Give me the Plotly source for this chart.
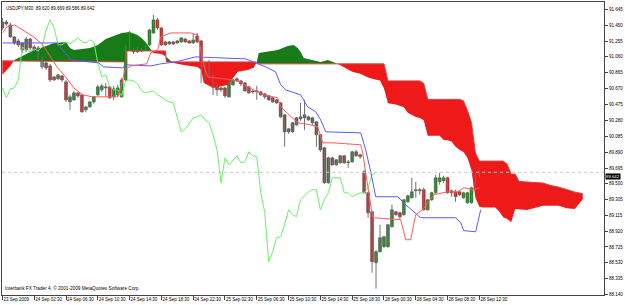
import plotly.graph_objects as go
import numpy as np

# ---------------- data (bar index 0 = 23 Sep 2009 22:30, M30 bars) ----------------
opens = [91.415, 91.489, 91.452, 91.305, 91.256, 91.231, 91.145, 91.280, 91.182, 91.170,
         91.047, 90.986, 90.949, 90.814, 90.790, 90.826, 90.753, 90.507, 90.532, 90.618,
         90.593, 90.409, 90.446, 90.507, 90.593, 90.655, 90.692, 90.692, 90.569, 90.593,
         90.569, 90.777, 91.342, 91.158, 91.121, 91.158, 91.145, 91.207, 91.354, 91.514,
         91.415, 91.244, 91.219, 91.244, 91.231, 91.244, 91.280, 91.256, 91.231, 91.317,
         91.256, 90.986, 90.986, 90.826, 90.716, 90.679, 90.679, 90.569, 90.716, 90.790,
         90.765, 90.741, 90.692, 90.642, 90.630, 90.630, 90.606, 90.581, 90.557, 90.532,
         90.495, 90.348, 90.139, 90.139, 90.225, 90.299, 90.311, 90.323, 90.311, 90.262,
         90.103, 89.943, 89.514, 89.820, 89.734, 89.759, 89.845, 89.759, 89.771, 89.894,
         89.857, 89.649, 89.391, 89.158, 88.532, 88.667, 88.728, 88.728, 88.974, 89.158,
         89.145, 89.121, 89.280, 89.330, 89.415, 89.415, 89.428, 89.182, 89.305, 89.391,
         89.526, 89.538, 89.575, 89.415, 89.403, 89.403, 89.330, 89.268, 89.268, 89.428,
         89.620]
highs = [91.538, 91.514, 91.477, 91.317, 91.280, 91.244, 91.305, 91.293, 91.207, 91.195,
         91.060, 90.998, 90.974, 90.826, 90.851, 90.839, 90.777, 90.593, 90.642, 90.630,
         90.606, 90.458, 90.520, 90.581, 90.716, 90.728, 90.741, 90.704, 90.704, 90.716,
         90.802, 91.207, 91.379, 91.170, 91.182, 91.170, 91.207, 91.403, 91.575, 91.538,
         91.428, 91.256, 91.256, 91.256, 91.268, 91.305, 91.293, 91.268, 91.342, 91.354,
         91.268, 90.998, 91.023, 90.851, 90.728, 90.692, 90.692, 90.777, 90.790, 90.814,
         90.777, 90.753, 90.704, 90.655, 90.704, 90.642, 90.618, 90.593, 90.569, 90.544,
         90.507, 90.360, 90.188, 90.262, 90.323, 90.495, 90.532, 90.336, 90.323, 90.274,
         90.115, 89.955, 89.833, 89.833, 89.808, 89.857, 89.857, 89.796, 89.906, 89.918,
         89.869, 89.673, 89.403, 89.170, 88.691, 88.998, 88.863, 89.011, 89.244, 89.170,
         89.158, 89.317, 89.366, 89.575, 89.526, 89.452, 89.452, 89.317, 89.403, 89.612,
         89.636, 89.599, 89.587, 89.428, 89.428, 89.415, 89.403, 89.403, 89.465, 89.624,
         89.669]
lows = [91.391, 91.440, 91.293, 91.207, 91.182, 91.109, 91.121, 91.145, 91.121, 91.023,
        90.912, 90.900, 90.753, 90.765, 90.777, 90.753, 90.507, 90.409, 90.520, 90.557,
        90.372, 90.385, 90.434, 90.483, 90.581, 90.630, 90.569, 90.544, 90.532, 90.569,
        90.557, 90.753, 91.133, 91.096, 91.109, 91.121, 91.133, 91.195, 91.342, 91.391,
        91.195, 91.195, 91.207, 91.207, 91.219, 91.231, 91.231, 91.219, 91.219, 91.231,
        90.741, 90.777, 90.802, 90.593, 90.581, 90.630, 90.557, 90.557, 90.704, 90.753,
        90.704, 90.630, 90.606, 90.606, 90.532, 90.581, 90.544, 90.520, 90.495, 90.483,
        90.311, 89.955, 90.115, 90.127, 90.213, 90.274, 90.164, 90.274, 90.225, 89.955,
        89.894, 89.501, 89.501, 89.722, 89.722, 89.747, 89.747, 89.698, 89.759, 89.833,
        89.808, 89.379, 89.084, 88.409, 88.213, 88.655, 88.716, 88.716, 88.961, 89.109,
        89.060, 89.109, 89.268, 89.317, 89.330, 89.366, 89.170, 89.170, 89.293, 89.379,
        89.489, 89.514, 89.379, 89.342, 89.280, 89.354, 89.317, 89.256, 89.256, 89.415,
        89.586]
closes = [91.489, 91.465, 91.305, 91.231, 91.207, 91.145, 91.280, 91.170, 91.145, 91.047,
          90.937, 90.925, 90.777, 90.777, 90.839, 90.777, 90.532, 90.569, 90.618, 90.581,
          90.385, 90.446, 90.507, 90.569, 90.692, 90.704, 90.679, 90.557, 90.667, 90.679,
          90.777, 91.182, 91.145, 91.121, 91.158, 91.133, 91.182, 91.391, 91.514, 91.415,
          91.207, 91.207, 91.244, 91.219, 91.256, 91.293, 91.244, 91.231, 91.268, 91.244,
          90.986, 90.814, 90.839, 90.692, 90.655, 90.655, 90.581, 90.765, 90.777, 90.765,
          90.728, 90.642, 90.618, 90.630, 90.642, 90.593, 90.569, 90.532, 90.507, 90.495,
          90.323, 90.139, 90.176, 90.250, 90.311, 90.323, 90.348, 90.287, 90.250, 90.103,
          89.918, 89.514, 89.820, 89.734, 89.796, 89.845, 89.759, 89.771, 89.894, 89.845,
          89.833, 89.391, 89.145, 88.544, 88.667, 88.839, 88.851, 88.998, 89.182, 89.121,
          89.096, 89.305, 89.354, 89.403, 89.428, 89.428, 89.182, 89.305, 89.391, 89.575,
          89.575, 89.575, 89.391, 89.391, 89.342, 89.366, 89.391, 89.391, 89.452, 89.612,
          89.642]
blue_bars = [9, 10, 32, 51, 52, 53, 119]

# Tenkan-sen (red) vertices: bar index, price
tenkan_i = [0.08, 1.08, 3.09, 5.11, 7.87, 10.14, 12.15, 13.91, 15.92, 17.94, 20.20, 22.72,
            29.01, 30.01, 30.77, 32.28, 36.30, 37.31, 39.07, 39.82, 42.34, 47.37, 49.13,
            49.89, 50.64, 51.65, 57.94, 59.95, 61.71, 65.74, 68.00, 69.26, 70.01, 70.77,
            74.29, 77.56, 79.32, 80.58, 83.09, 90.14, 90.65, 91.40, 91.90, 93.16, 100.20,
            101.46, 102.72, 103.97, 105.73, 106.99, 108.50, 112.02, 114.54, 116.05, 118.57,
            120.08]
tenkan = [91.354, 91.428, 91.452, 91.391, 91.305, 91.207, 91.060, 90.925, 90.814, 90.679,
          90.593, 90.569, 90.569, 90.716, 90.900, 90.949, 90.974, 91.109, 91.145, 91.305,
          91.354, 91.354, 91.330, 91.145, 90.961, 90.814, 90.777, 90.753, 90.692, 90.593,
          90.569, 90.557, 90.446, 90.409, 90.250, 90.225, 90.201, 90.004, 90.004, 89.980,
          89.882, 89.636, 89.465, 89.084, 89.060, 88.814, 88.814, 89.121, 89.182, 89.268,
          89.366, 89.403, 89.403, 89.452, 89.428, 89.452]

# Kijun-sen (blue) vertices
kijun_i = [0.08, 13.91, 15.17, 17.18, 24.23, 25.48, 30.26, 31.52, 37.31, 39.82, 43.60,
           46.62, 48.63, 61.21, 63.72, 66.24, 68.75, 70.01, 71.27, 75.04, 76.81, 78.82,
           80.08, 81.34, 90.14, 91.40, 92.66, 93.91, 99.45, 101.46, 105.23, 114.04, 115.30,
           116.05, 119.07, 120.33]
kijun = [91.231, 91.231, 91.145, 91.023, 90.986, 90.937, 90.925, 90.961, 90.949, 90.974,
         90.998, 91.035, 91.060, 91.035, 90.986, 90.937, 90.876, 90.716, 90.655, 90.593,
         90.446, 90.385, 90.287, 90.139, 90.127, 89.918, 89.649, 89.342, 89.342, 89.244,
         89.084, 89.084, 89.023, 88.925, 88.912, 89.182]

# Senkou span A / B (cloud edges), plotted 26 bars ahead
span_a_i = [0.0, 1.99, 2.99, 5.01, 8.0, 10.99, 13.01, 16.0, 17.01, 17.99, 21.99, 24.0, 26.01,
            28.0, 30.01, 32.0, 33.99, 34.99, 36.0, 37.01, 37.99, 40.0, 41.01, 41.99, 42.99,
            45.61, 49.13, 50.01, 50.64, 53.01, 56.68, 58.01, 59.20, 61.71, 63.22, 64.0, 64.48,
            65.74, 69.26, 71.77, 73.28, 74.29, 75.04, 75.80, 77.56, 80.08, 81.84, 83.35,
            84.35, 86, 88, 90, 92, 94, 95, 96, 97, 99, 101, 102, 104, 105, 106, 107, 110,
            111, 112, 113, 114, 115, 116, 117, 118, 119, 120, 121, 124, 125, 126, 127, 128,
            129, 132, 136, 140, 142, 144, 146]
span_a = [90.839, 90.949, 91.023, 91.072, 91.145, 91.195, 91.231, 91.244, 91.170, 91.145,
          91.170, 91.207, 91.280, 91.317, 91.354, 91.366, 91.330, 91.293, 91.244, 91.170,
          91.109, 91.096, 91.072, 91.023, 90.986, 90.961, 90.937, 90.900, 90.741, 90.679,
          90.716, 90.802, 90.876, 90.900, 90.925, 90.998, 91.109, 91.121, 91.145, 91.195,
          91.207, 91.170, 91.121, 91.047, 91.023, 90.998, 91.023, 90.998,
          90.974, 90.928, 90.876, 90.854, 90.808, 90.780, 90.770, 90.670, 90.490, 90.475,
          90.440, 90.375, 90.320, 90.310, 90.280, 90.090, 90.090, 90.040, 90.035, 90.020,
          89.955, 89.920, 89.890, 89.820, 89.670, 89.330, 89.220, 89.210, 89.210, 89.160,
          89.090, 89.070, 89.030, 89.190, 89.180, 89.230, 89.230, 89.200, 89.190, 89.310]
span_b_i = [0.0, 31.02, 31.25, 41.01, 41.26, 63.72, 64.48, 96, 97, 105, 106, 107, 115, 116,
            117, 118, 119, 120, 126, 127, 128, 129, 130, 136, 137, 138, 140, 142, 144, 146]
span_b = [91.011, 90.998, 91.133, 91.133, 90.998, 90.998, 90.974, 90.974, 90.765, 90.765,
          90.735, 90.538, 90.538, 90.520, 90.400, 90.256, 89.880, 89.780, 89.780, 89.740,
          89.620, 89.620, 89.530, 89.510, 89.495, 89.480, 89.460, 89.430, 89.400, 89.380]

CHIKOU_SHIFT = 26

x_tick_bars = [0, 8, 16, 24, 32, 40, 48, 56, 64, 72, 80, 88, 96, 104, 112, 120]
x_tick_text = ["23 Sep 2009", "24 Sep 02:30", "24 Sep 06:30", "24 Sep 10:30", "24 Sep 14:30",
               "24 Sep 18:30", "24 Sep 22:30", "25 Sep 02:30", "25 Sep 06:30", "25 Sep 10:30",
               "25 Sep 14:30", "25 Sep 18:30", "28 Sep 00:30", "28 Sep 04:30", "28 Sep 08:30",
               "28 Sep 12:30"]
y_tick_text = ["91.645", "91.450", "91.255", "91.060", "90.865", "90.670", "90.475", "90.280",
               "90.085", "89.890", "89.695", "89.500", "89.305", "89.115", "88.920", "88.725",
               "88.530", "88.335", "88.140"]

title_text = "USDJPY,M30  89.620 89.669 89.586 89.642"
copyright_text = "Interbank FX Trader 4, \u00a9 2001-2009 MetaQuotes Software Corp."
last_price = closes[-1]

# ---------------- styles ----------------
FONT = "Liberation Sans"
FS = 4.5
C_BULL = "#1e8c1e"
C_BEAR = "#e81c1c"
C_BLUE = "#5aaaf0"
C_CLOUD_UP = "#177c17"
C_CLOUD_DN = "#ee1a1a"

fig = go.Figure()

# cloud polygons
grid = np.union1d(span_a_i, span_b_i)
a = np.interp(grid, span_a_i, span_a)
b = np.interp(grid, span_b_i, span_b)
pts = []
for k in range(len(grid)):
    pts.append((grid[k], a[k], b[k]))
    if k < len(grid) - 1:
        d0 = a[k] - b[k]
        d1 = a[k + 1] - b[k + 1]
        if d0 * d1 < 0:
            t = d0 / (d0 - d1)
            xc = grid[k] + t * (grid[k + 1] - grid[k])
            yc = a[k] + t * (a[k + 1] - a[k])
            pts.append((xc, yc, yc))
groups = []
cur = [pts[0]]
cur_sign = None
for k in range(len(pts) - 1):
    p0, p1 = pts[k], pts[k + 1]
    s = ((p0[1] + p1[1]) - (p0[2] + p1[2])) >= 0
    if cur_sign is None:
        cur_sign = s
    if s != cur_sign:
        groups.append((cur_sign, cur))
        cur = [p0]
        cur_sign = s
    cur.append(p1)
groups.append((cur_sign, cur))
for s, g in groups:
    xs = [float(p[0]) for p in g]
    ya = [float(p[1]) for p in g]
    yb = [float(p[2]) for p in g]
    fig.add_trace(go.Scatter(x=xs + xs[::-1], y=ya + yb[::-1], fill="toself",
                             fillcolor=C_CLOUD_UP if s else C_CLOUD_DN,
                             line=dict(width=0), mode="lines", hoverinfo="skip",
                             showlegend=False))

# span B edge line
fig.add_trace(go.Scatter(x=span_b_i, y=span_b, mode="lines",
                         line=dict(color="#e04040", width=1), showlegend=False, hoverinfo="skip"))

# wicks
idx = list(range(len(opens)))
wx, wy = [], []
for i in idx:
    wx += [i, i, None]
    wy += [lows[i], highs[i], None]
fig.add_trace(go.Scatter(x=wx, y=wy, mode="lines", line=dict(color="#707070", width=1),
                         showlegend=False, hoverinfo="skip"))

# bodies
base = [min(o, c) for o, c in zip(opens, closes)]
height = [max(abs(c - o), 0.009) for o, c in zip(opens, closes)]
cols = []
for i in idx:
    if i in blue_bars:
        cols.append(C_BLUE)
    elif closes[i] >= opens[i]:
        cols.append(C_BULL)
    else:
        cols.append(C_BEAR)
fig.add_trace(go.Bar(x=idx, y=height, base=base, width=0.72,
                     marker=dict(color=cols, line=dict(color="#404040", width=0.5)),
                     showlegend=False, hoverinfo="skip"))

# chikou span
chikou_x = [i - CHIKOU_SHIFT for i in idx if i >= CHIKOU_SHIFT]
chikou_y = [closes[i] for i in idx if i >= CHIKOU_SHIFT]
fig.add_trace(go.Scatter(x=chikou_x, y=chikou_y, mode="lines",
                         line=dict(color="#6cf06c", width=1), showlegend=False, hoverinfo="skip"))
# kijun
fig.add_trace(go.Scatter(x=kijun_i, y=kijun, mode="lines",
                         line=dict(color="#5a5aff", width=1), showlegend=False, hoverinfo="skip"))
# tenkan
fig.add_trace(go.Scatter(x=tenkan_i, y=tenkan, mode="lines",
                         line=dict(color="#ff5a5a", width=1), showlegend=False, hoverinfo="skip"))

# current price line
fig.add_shape(type="line", xref="paper", x0=0, x1=1, yref="y", y0=last_price, y1=last_price,
              line=dict(color="#c8c8c8", width=1, dash="dot"))

fig.add_annotation(xref="paper", yref="y", x=1, y=last_price, text=f"{last_price:.3f}",
                   showarrow=False, xanchor="left", yanchor="top", xshift=1, yshift=-0.5,
                   bgcolor="black", font=dict(color="white", size=4.3, family=FONT), borderpad=0)
fig.add_annotation(xref="paper", yref="paper", x=0.004, y=0.992, text=title_text,
                   showarrow=False, xanchor="left", yanchor="top",
                   font=dict(color="black", size=FS, family=FONT))
fig.add_annotation(xref="paper", yref="paper", x=0.002, y=0.006, text=copyright_text,
                   showarrow=False, xanchor="left", yanchor="bottom",
                   font=dict(color="black", size=4.7, family=FONT))

fig.update_layout(
    width=625, height=305,
    margin=dict(l=2, r=21, t=2, b=10),
    paper_bgcolor="white", plot_bgcolor="white",
    barmode="overlay", showlegend=False,
    xaxis=dict(range=[-0.1, 151.35], showgrid=False, zeroline=False,
               tickvals=x_tick_bars, ticktext=x_tick_text, ticks="outside", ticklen=4,
               tickcolor="#444", ticklabelposition="outside right", tickangle=0,
               tickfont=dict(size=FS, family=FONT, color="black"),
               showline=True, linecolor="#444", linewidth=1, mirror=True),
    yaxis=dict(range=[88.135, 91.734], side="right", showgrid=False, zeroline=False,
               tickvals=[float(t) for t in y_tick_text], ticktext=y_tick_text,
               ticks="outside", ticklen=3, tickcolor="#444",
               tickfont=dict(size=FS, family=FONT, color="black"),
               showline=True, linecolor="#444", linewidth=1, mirror=True),
)

fig.write_html("out.html")
